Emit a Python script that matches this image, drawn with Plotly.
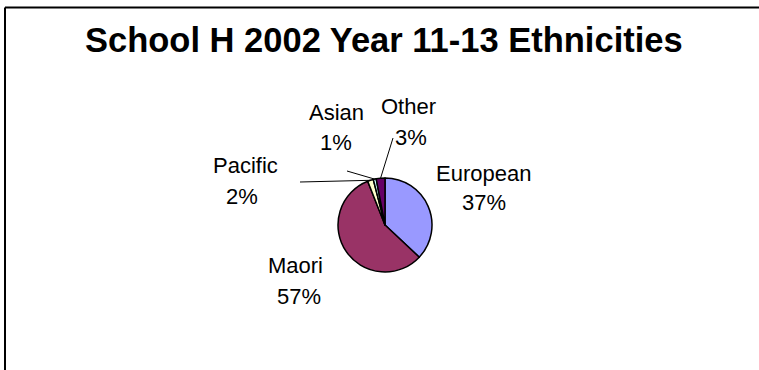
import math
import plotly.graph_objects as go

# Ethnicity breakdown, Year 11-13, 2002
groups = ["European", "Maori", "Pacific", "Asian", "Other"]
shares = [37, 57, 2, 1, 3]
colors = ["#9999FF", "#993366", "#FFFFCC", "#CCFFFF", "#660066"]
title_text = "School H 2002 Year 11-13 Ethnicities"

W, H = 759, 370
CX, CY, R = 385, 225, 47  # pie centre and radius in pixels
FONT = "Liberation Sans, Arial, sans-serif"


def px(x):
    return x / W


def py(y):
    return 1 - y / H


fig = go.Figure()
fig.add_trace(go.Pie(
    labels=groups,
    values=shares,
    sort=False,
    direction="clockwise",
    rotation=0,
    textinfo="none",
    hoverinfo="label+percent",
    marker=dict(colors=colors, line=dict(color="black", width=1.5)),
    domain=dict(x=[px(CX - R), px(CX + R)], y=[py(CY + R), py(CY - R)]),
    showlegend=False,
))

# label line positions: (name x, name y, percent x, percent y, leader start)
label_pos = {
    "European": (484, 173, 484, 203, None),
    "Maori": (295, 265, 299, 296, None),
    "Pacific": (245, 165, 242, 196, (300, 182)),
    "Asian": (336, 112, 336, 142, (347, 171)),
    "Other": (408, 107, 411, 137, (393, 138)),
}

total = sum(shares)
start = 0.0
shapes = []
annotations = []
for g, v in zip(groups, shares):
    frac = v / total
    mid = (start + frac / 2) * 2 * math.pi
    start += frac
    nx, ny, qx, qy, lead = label_pos[g]
    for text, x, y in ((g, nx, ny), (f"{round(frac * 100)}%", qx, qy)):
        annotations.append(dict(
            x=px(x), y=py(y), xref="paper", yref="paper",
            text=text, showarrow=False,
            font=dict(family=FONT, size=22, color="black"),
            xanchor="center", yanchor="middle",
        ))
    if lead is not None:
        ex = CX + R * math.sin(mid)
        ey = CY - R * math.cos(mid)
        shapes.append(dict(
            type="line", xref="paper", yref="paper",
            x0=px(lead[0]), y0=py(lead[1]), x1=px(ex), y1=py(ey),
            line=dict(color="black", width=1),
        ))

# chart area frame (left and top edges visible)
shapes.append(dict(type="line", xref="paper", yref="paper",
                   x0=px(5), y0=py(7.5), x1=px(W + 5), y1=py(7.5),
                   line=dict(color="black", width=2)))
shapes.append(dict(type="line", xref="paper", yref="paper",
                   x0=px(5), y0=py(7.5), x1=px(5), y1=py(H + 5),
                   line=dict(color="black", width=2)))

annotations.append(dict(
    x=px(384), y=py(40), xref="paper", yref="paper",
    text=f"<b>{title_text}</b>", showarrow=False,
    font=dict(family=FONT, size=34.5, color="black"),
    xanchor="center", yanchor="middle",
))

fig.update_layout(
    width=W, height=H,
    margin=dict(l=0, r=0, t=0, b=0),
    paper_bgcolor="white", plot_bgcolor="white",
    shapes=shapes, annotations=annotations,
)

fig.write_html("out.html")
